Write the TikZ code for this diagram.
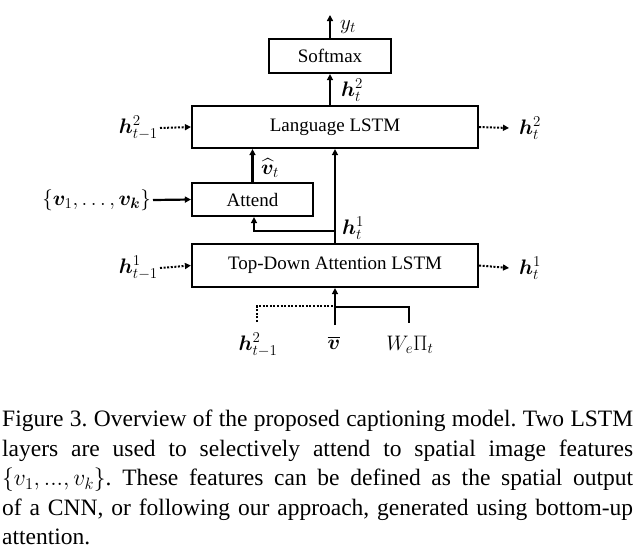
\RequirePackage{fix-cm}
\documentclass[tikz,border=0pt]{standalone}
\usepackage{amsmath}
\usepackage{bm}
\usepackage{fontspec}
\setmainfont{Liberation Serif}
\DeclareMathSizes{21}{21}{15}{11}
\usetikzlibrary{arrows.meta}
\begin{document}
\begin{tikzpicture}[x=1pt,y=-1pt,
  box/.style={draw, line width=2.2pt, inner sep=0pt, font=\fontsize{19}{22}\selectfont},
  lab/.style={inner sep=0pt, font=\fontsize{21}{24}\selectfont},
  solidarrow/.style={line width=2.2pt, -{Triangle[length=6pt,width=6pt]}},
  dotarrow/.style={line width=2pt, dash pattern=on 2pt off 1.6pt, -{Triangle[length=6pt,width=6pt]}},
  solidline/.style={line width=2.2pt},
  dotline/.style={line width=2pt, dash pattern=on 2pt off 1.6pt}]
\useasboundingbox (0,0) rectangle (637,558);
% boxes
\node[box, minimum width=122pt, minimum height=34pt] (soft) at (330,56) {Softmax};
\node[box, minimum width=286pt, minimum height=42pt] (lang) at (335,127) {Language LSTM};
\node[box, minimum width=121pt, minimum height=33pt] (att) at (252.5,199.5) {Attend};
\node[box, minimum width=286pt, minimum height=43pt] (td) at (335,265.5) {Top-Down Attention LSTM};
% labels
\node[lab, anchor=west] (yt) at (340,27) {$y_t$};
\node[lab, anchor=west] (h2t) at (341,90) {$\bm{h}_t^2$};
\node[lab, anchor=east] (h2tm) at (158,128) {$\bm{h}_{t-1}^2$};
\node[lab, anchor=west] (h2tr) at (519,128) {$\bm{h}_t^2$};
\node[lab, anchor=west] (vhat) at (261,168) {$\widehat{\bm{v}}_t$};
\node[lab, anchor=east] (vset) at (151,200) {$\{\bm{v}_1,\ldots,\bm{v_k}\}$};
\node[lab, anchor=west] (h1t) at (342,228) {$\bm{h}_t^1$};
\node[lab, anchor=east] (h1tm) at (158,268) {$\bm{h}_{t-1}^1$};
\node[lab, anchor=west] (h1tr) at (519,268) {$\bm{h}_t^1$};
\node[lab] (h2b) at (258,345) {$\bm{h}_{t-1}^2$};
\node[lab] (vbar) at (334,343) {$\overline{\bm{v}}$};
\node[lab] (wpi) at (410,345) {$W_e\Pi_t$};
% coordinates
\coordinate (ytop) at (330,15);
\coordinate (l2) at (160,128);
\coordinate (r2) at (509,128);
\coordinate (l1) at (160,268);
\coordinate (r1) at (509,268);
\coordinate (vs) at (153,200);
\coordinate (br) at (335,231);
\coordinate (brl) at (254,231);
\coordinate (bot) at (335,325);
\coordinate (dl) at (257,322);
\coordinate (dc) at (257,306);
\coordinate (dr) at (335,306);
\coordinate (sl) at (335,307);
\coordinate (sc) at (409,307);
\coordinate (sr) at (409,323);
% connectors
\draw[solidarrow] (soft.north) -- (ytop);
\draw[solidarrow] (soft.south |- lang.north) -- (soft.south);
\draw[dotarrow] (l2) -- (lang.west);
\draw[dotarrow] (lang.east) -- (r2);
\draw[solidarrow] (att.north) -- (att.north |- lang.south);
\draw[solidarrow] (td.north) -- (lang.south);
\draw[solidarrow] (br) -- (brl) -- (att.south -| brl);
\draw[solidarrow] (vs) -- (att.west);
\draw[dotarrow] (l1) -- (td.west);
\draw[dotarrow] (td.east) -- (r1);
\draw[solidarrow] (bot) -- (td.south);
\draw[dotline] (dl) -- (dc) -- (dr);
\draw[solidline] (sl) -- (sc) -- (sr);
% caption
\node[anchor=north west, inner sep=0pt, text width=631pt, align=justify,
      font=\fontsize{23.5}{29.5}\selectfont] (cap) at (2,410)
 {\frenchspacing\hyphenpenalty=10000\emergencystretch=20pt
 Figure 3. Overview of the proposed captioning model. Two LSTM\linebreak
 layers are used to selectively attend to spatial image features\linebreak
 $\{v_1,...,v_k\}$. These features can be defined as the spatial output\linebreak
 of a CNN, or following our approach, generated using bottom-up\linebreak
 attention.};
\end{tikzpicture}
\end{document}
